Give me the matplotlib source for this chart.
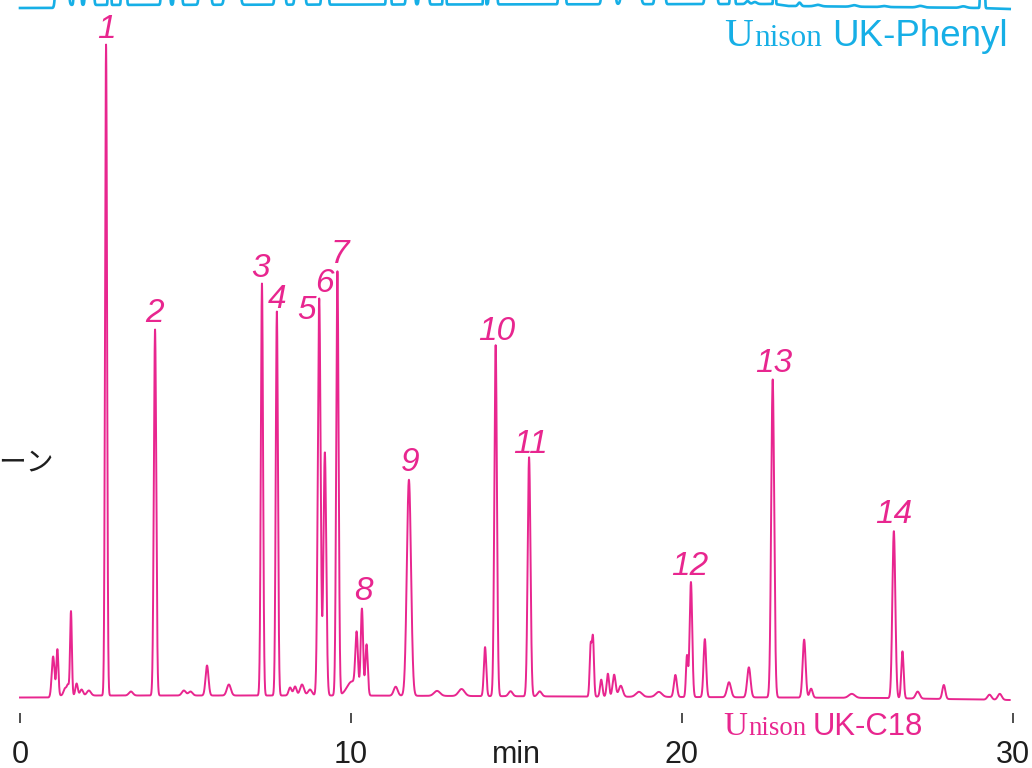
import numpy as np
import matplotlib
matplotlib.use('Agg')
import matplotlib.pyplot as plt

PINK = '#E8268F'
CYAN = '#16AFE6'
INK = '#1E1E1E'

# ---------------- data (UK-C18, numbered peaks) ----------------
peak_labels = ['1', '2', '3', '4', '5', '6', '7', '8', '9', '10', '11', '12', '13', '14']
c18_peak_time = [2.60, 4.08, 7.31, 7.76, 9.04, 9.21, 9.59, 10.33, 11.75, 14.37, 15.38, 20.27, 22.74, 26.40]
c18_peak_height = [651, 366, 412, 384, 397, 243, 424, 85, 216, 351, 239, 115, 318, 167]
c18_peak_sigma = [0.030, 0.036, 0.033, 0.033, 0.042, 0.042, 0.036, 0.036, 0.063, 0.039, 0.042, 0.039, 0.045, 0.045]

# minor peaks (UK-C18)
c18_minor_time = [1.00, 1.13, 1.36, 1.45, 1.54, 1.71, 1.86, 2.08, 3.35, 4.95, 5.15, 5.65, 6.31,
                  8.16, 8.31, 8.52, 8.76, 10.03, 10.17, 10.47, 11.35, 12.60, 13.34, 14.05, 14.82,
                  15.70, 17.24, 17.31, 17.56, 17.76, 17.95, 18.15, 18.70, 19.30, 19.80, 20.15,
                  20.69, 21.42, 22.02, 23.69, 23.90, 25.13, 26.66, 27.12, 27.91, 29.29, 29.60]
c18_minor_height = [40, 46, 7, 10, 84, 12, 6, 5, 4, 5, 4, 30, 11,
                    8, 9, 11, 6, 14, 55, 51, 9, 5, 7, 49, 5,
                    5, 50, 58, 17, 23, 22, 11, 5, 5, 22, 41,
                    58, 15, 30, 58, 9, 4, 47, 7, 14, 5, 6]
c18_minor_sigma = [0.042, 0.030, 0.045, 0.036, 0.027, 0.036, 0.045, 0.060, 0.060, 0.060, 0.060, 0.045, 0.060,
                   0.045, 0.045, 0.060, 0.060, 0.151, 0.039, 0.036, 0.060, 0.091, 0.091, 0.036, 0.060,
                   0.060, 0.030, 0.030, 0.036, 0.036, 0.045, 0.060, 0.091, 0.091, 0.045, 0.030,
                   0.039, 0.060, 0.051, 0.045, 0.045, 0.091, 0.036, 0.060, 0.045, 0.060, 0.060]
c18_base_time = [0.0, 0.95, 1.05, 10.0, 20.0, 26.0, 29.9]
c18_base_level = [-4.5, -4.5, -2.5, -2.5, -4.0, -5.0, -7.0]

# ---------------- data (UK-Phenyl, only its lower edge is on the page) ----------------
ph_peak_time = [1.269, 1.737, 2.100, 2.704, 3.142, 4.396, 4.773, 5.589, 6.420, 7.855, 8.459, 9.215,
                11.133, 11.798, 12.205, 12.825, 14.033, 14.290, 16.375, 17.779, 18.459, 19.335,
                20.876, 21.526, 22.795, 29.079]
ph_peak_span = [0.544, 0.302, 0.362, 0.151, 0.242, 0.362, 0.332, 0.483, 0.634, 0.423, 0.423, 0.302,
                0.211, 0.362, 0.393, 0.151, 0.121, 0.332, 0.302, 0.544, 0.755, 0.423,
                0.483, 0.211, 0.121, 0.211]
ph_peak_height = [4000, 3500, 3800, 3000, 3200, 3600, 3300, 4200, 4500, 3900, 3700, 3400,
                  3000, 3600, 3700, 3000, 2800, 3500, 3300, 4100, 4600, 3900,
                  4000, 3100, 2800, 3200]
ph_minor_time = [21.98, 22.20, 23.55, 24.10, 25.20, 26.10, 27.20, 28.50]
ph_minor_height = [3, 2, 3.5, 1.5, 1.5, 1.0, 1.5, 1.5]
ph_minor_sigma = [0.05, 0.06, 0.045, 0.09, 0.09, 0.09, 0.09, 0.09]
ph_base_time = [0.0, 1.0, 1.3, 22.8, 23.2, 29.0, 29.9]
ph_base_level = [685, 685, 688, 689, 687, 685, 684]

tick_values = [0, 10, 15, 20, 30]
tick_texts = ['0', '10', 'min', '20', '30']

label_time = [2.60, 4.05, 7.28, 7.78, 8.66, 9.21, 9.67, 10.39, 11.78, 14.41, 15.41, 20.24, 22.78, 26.40]
label_level = [655, 371, 416, 385, 374, 401, 430, 93, 222, 353, 240, 118, 321, 170]

# ---------------- build traces ----------------
t = np.linspace(0.0, 29.9, 30000)

def gauss_sum(times, heights, sigmas):
    out = np.zeros_like(t)
    for tc, h, s in zip(times, heights, sigmas):
        out += h * np.exp(-0.5 * ((t - tc) / s) ** 2)
    return out

c18 = np.interp(t, c18_base_time, c18_base_level)
c18 += gauss_sum(c18_peak_time, c18_peak_height, c18_peak_sigma)
c18 += gauss_sum(c18_minor_time, c18_minor_height, c18_minor_sigma)

ph = np.interp(t, ph_base_time, ph_base_level)
ph += gauss_sum(ph_peak_time, ph_peak_height, [s / 8.5 for s in ph_peak_span])
ph += gauss_sum(ph_minor_time, ph_minor_height, ph_minor_sigma)

# ---------------- figure ----------------
W, H = 1032, 768
fig = plt.figure(figsize=(W / 100, H / 100), dpi=100)
ax = fig.add_axes([0, 55 / H, 1, 713 / H])
ax.set_xlim(-20 / 33.1, 1012 / 33.1)
ax.set_ylim(-20, 693)

ax.plot(t, ph, color=CYAN, lw=1.9, solid_joinstyle='round')
ax.plot(t, c18, color=PINK, lw=1.4, solid_joinstyle='round')

for s in ax.spines.values():
    s.set_visible(False)
ax.set_yticks([])
ax.set_xticks(tick_values, tick_texts)
ax.tick_params(axis='x', direction='out', length=7.2, width=1.1, color=INK,
               labelsize=22, labelcolor=INK, pad=12)
for lab in ax.get_xticklabels():
    lab.set_fontfamily('Liberation Sans')
ax.xaxis.get_major_ticks()[2].tick1line.set_visible(False)

for lab, lt, lv in zip(peak_labels, label_time, label_level):
    ax.text(lt, lv, lab, ha='center', va='baseline', fontsize=24, style='italic',
            color=PINK, fontfamily='Liberation Sans')

fig.text(54 / W, 1 - 462 / H, 'ーン', ha='right', va='center', fontsize=20,
         color=INK, fontfamily=['Noto Sans CJK JP', 'DejaVu Sans'])

renderer = fig.canvas.get_renderer()

def brand(x_px, base_px, u_size, n_size, model, m_size, model_x_px, color):
    tu = fig.text(x_px / W, 1 - base_px / H, 'U', fontfamily='Liberation Serif',
                  fontsize=u_size, color=color, va='baseline', ha='left')
    ext = tu.get_window_extent(renderer)
    fig.text((ext.x1 + 1) / W, 1 - base_px / H, 'nison', fontfamily='Liberation Serif',
             fontsize=n_size, color=color, va='baseline', ha='left')
    fig.text(model_x_px / W, 1 - base_px / H, model, fontfamily='Liberation Sans',
             fontsize=m_size, color=color, va='baseline', ha='left')

brand(723, 735, 23.9, 19.3, 'UK-C18', 22.3, 813, PINK)
brand(724, 46, 28.7, 22.5, 'UK-Phenyl', 26.5, 832, CYAN)

fig.savefig('out.png', dpi=100)
